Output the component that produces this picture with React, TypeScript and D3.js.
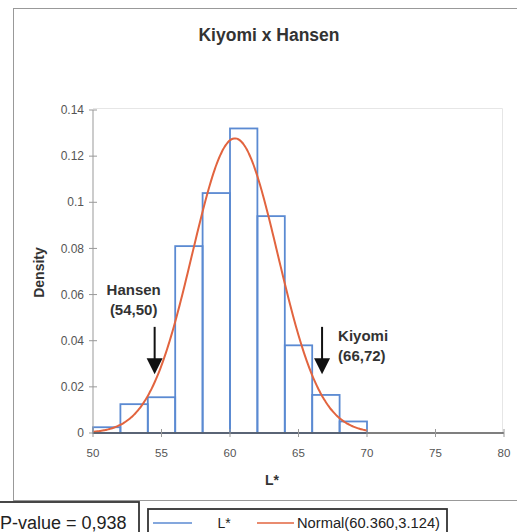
import React from "react";
import * as d3 from "d3";

// Histogram of L* values: bin edges and density per bin
const binEdges = [50, 52, 54, 56, 58, 60, 62, 64, 66, 68, 70];
const binDensity = [0.0025, 0.0125, 0.0155, 0.081, 0.104, 0.132, 0.094, 0.038, 0.0165, 0.005];

// Fitted normal distribution
const normalMean = 60.36;
const normalSd = 3.124;

const xTicks = [50, 55, 60, 65, 70, 75, 80];
const yTicks = [0, 0.02, 0.04, 0.06, 0.08, 0.1, 0.12, 0.14];
const yTickLabels = ["0", "0.02", "0.04", "0.06", "0.08", "0.1", "0.12", "0.14"];

// Annotated points on the L* axis
const markers = [
  { name: "Hansen", label: "(54,50)", value: 54.5, side: "left" },
  { name: "Kiyomi", label: "(66,72)", value: 66.72, side: "right" },
];

const pValueText = "P-value = 0,938";
const legendHist = "L*";
const legendNormal = "Normal(60.360,3.124)";

const W = 517;
const H = 532;
const FONT = "'Liberation Sans', Arial, Helvetica, sans-serif";

export default function App() {
  const x = d3.scaleLinear().domain([50, 80]).range([93, 504]);
  const y = d3.scaleLinear().domain([0, 0.14]).range([433, 110]);

  const pdf = (v: number) =>
    Math.exp(-0.5 * ((v - normalMean) / normalSd) ** 2) / (normalSd * Math.sqrt(2 * Math.PI));
  const curveXs = d3.range(0, 201).map((i) => 50 + i * 0.1);
  const line = d3
    .line<number>()
    .x((v) => x(v))
    .y((v) => y(pdf(v)))
    .curve(d3.curveMonotoneX);

  const blue = "#5b8ad2";
  const red = "#e2643f";
  const ink = "#333";

  return (
    <svg
      width={W}
      height={H}
      style={{ position: "absolute", left: 0, top: 0, background: "#fff" }}
      fontFamily={FONT}
    >
      <rect x={0} y={0} width={W} height={H} fill="#fff" />
      {/* chart frame */}
      <rect x={13.5} y={8.5} width={560} height={492} fill="none" stroke="#999" strokeWidth={1} />
      {/* plot area outline */}
      <path d={`M${x(50)},108.5 H502.5 V${y(0)}`} fill="none" stroke="#e6e6e6" strokeWidth={1} />

      <text x={269} y={41} textAnchor="middle" fontSize={17.5} fontWeight="bold" fill={ink}>
        Kiyomi x Hansen
      </text>

      {/* bars */}
      {binDensity.map((dv, i) => (
        <rect
          key={i}
          x={x(binEdges[i])}
          y={y(dv)}
          width={x(binEdges[i + 1]) - x(binEdges[i])}
          height={y(0) - y(dv)}
          fill="none"
          stroke={blue}
          strokeWidth={1.8}
        />
      ))}

      {/* normal curve */}
      <path d={line(curveXs) || ""} fill="none" stroke={red} strokeWidth={2} />

      {/* y axis */}
      <line x1={x(50)} x2={x(50)} y1={y(0.14)} y2={y(0)} stroke="#999" strokeWidth={1} />
      {yTicks.map((t, i) => (
        <g key={t}>
          <line x1={x(50) - 4} x2={x(50) + 4} y1={y(t)} y2={y(t)} stroke="#999" />
          <text
            x={84}
            y={y(t)}
            dy="0.35em"
            textAnchor="end"
            fontSize={12}
            fill="#555"
          >
            {yTickLabels[i]}
          </text>
        </g>
      ))}
      <text
        transform={`translate(44,272.5) rotate(-90)`}
        textAnchor="middle"
        fontSize={14}
        fontWeight="bold"
        fill={ink}
      >
        Density
      </text>

      {/* x axis */}
      <line x1={x(50)} x2={x(80)} y1={y(0)} y2={y(0)} stroke="#555" strokeWidth={1.3} />
      {xTicks.map((t) => (
        <g key={t}>
          <line x1={x(t)} x2={x(t)} y1={y(0) - 4} y2={y(0) + 4} stroke="#999" />
          <text x={x(t)} y={457} textAnchor="middle" fontSize={11.5} fill="#555">
            {t}
          </text>
        </g>
      ))}
      <text x={272} y={485} textAnchor="middle" fontSize={14} fontWeight="bold" fill={ink}>
        L*
      </text>

      {/* marker arrows */}
      {markers.map((m) => {
        const ax = x(m.value);
        const top = y(0.046);
        const tip = y(0.0255);
        const headTop = tip - 16;
        const left = m.side === "left";
        const tx = left ? ax - 21 : ax + 16;
        const ty = left ? 294.5 : 340.5;
        return (
          <g key={m.name}>
            <line x1={ax} x2={ax} y1={top} y2={headTop + 2} stroke="#111" strokeWidth={2} />
            <path d={`M${ax - 8},${headTop} L${ax + 8},${headTop} L${ax},${tip} Z`} fill="#111" />
            <text
              x={tx}
              y={ty}
              textAnchor={left ? "middle" : "start"}
              fontSize={15}
              fontWeight="bold"
              fill={ink}
            >
              <tspan x={tx}>{m.name}</tspan>
              <tspan x={tx} dy={20}>
                {m.label}
              </tspan>
            </text>
          </g>
        );
      })}

      {/* p-value box */}
      <rect x={-5} y={502} width={144} height={40} fill="#fff" stroke="#333" strokeWidth={1.8} />
      <text x={0} y={529} fontSize={18} fill="#222">
        {pValueText}
      </text>

      {/* legend */}
      <rect x={148} y={509} width={299} height={30} fill="#fff" stroke="#333" strokeWidth={1.8} />
      <line x1={153} x2={192} y1={523} y2={523} stroke={blue} strokeWidth={1.5} />
      <text x={224} y={528} textAnchor="middle" fontSize={14} fill="#222">
        {legendHist}
      </text>
      <line x1={257} x2={294} y1={523} y2={523} stroke={red} strokeWidth={1.5} />
      <text x={297} y={528} fontSize={14} fill="#222" textLength={143} lengthAdjust="spacingAndGlyphs">
        {legendNormal}
      </text>
    </svg>
  );
}
